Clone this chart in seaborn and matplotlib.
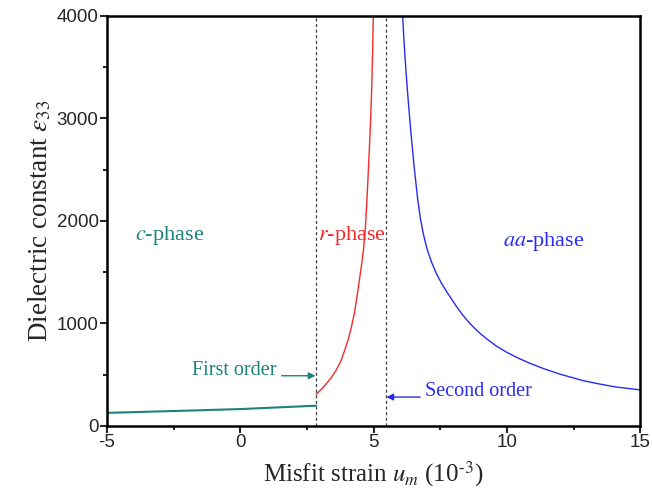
import matplotlib
matplotlib.use("Agg")
import matplotlib.pyplot as plt
import seaborn as sns
import pandas as pd
from matplotlib.ticker import MultipleLocator

# ---- data ----
c_strain = [-5.0, -2.5, 0.0, 2.85]
c_eps = [128, 146, 165, 198]

r_strain = [2.85, 3.05, 3.24, 3.43, 3.61, 3.78, 3.92, 4.05, 4.17, 4.28, 4.36, 4.45,
            4.55, 4.62, 4.69, 4.74, 4.79, 4.84, 4.89, 4.93, 4.96, 4.99]
r_eps = [310, 360, 416, 478, 550, 640, 741, 845, 969, 1100, 1229, 1392,
         1575, 1717, 1930, 2150, 2420, 2693, 3000, 3300, 3620, 4000]

aa_strain = [6.09, 6.13, 6.18, 6.24, 6.30, 6.40, 6.52, 6.65, 6.75, 6.86, 7.0, 7.17,
             7.35, 7.55, 7.74, 8.11, 8.35, 8.61, 8.9, 9.24, 9.6, 10.0, 10.4, 10.86,
             11.4, 12.0, 12.86, 13.5, 14.1, 15.0]
aa_eps = [4000, 3800, 3590, 3370, 3170, 2860, 2530, 2220, 2030, 1880, 1730, 1600,
          1490, 1390, 1310, 1165, 1080, 1000, 925, 850, 780, 718, 665, 612,
          557, 505, 442, 408, 380, 352]

transitions = [2.85, 5.45]
x_ticks = [-5, 0, 5, 10, 15]
y_ticks = [0, 1000, 2000, 3000, 4000]

teal = "#1b827c"
red = "#f42a2a"
blue = "#2a2af0"

sns.set_style("ticks")
plt.rcParams["font.family"] = ["Liberation Serif", "DejaVu Serif"]
plt.rcParams["mathtext.fontset"] = "stix"
plt.rcParams["axes.unicode_minus"] = False

fig = plt.figure(figsize=(6.52, 4.98), dpi=100)
ax = fig.add_axes([0.164, 0.1446, 0.818, 0.8234])

df = pd.concat([
    pd.DataFrame({"strain": c_strain, "eps": c_eps, "phase": "c"}),
    pd.DataFrame({"strain": r_strain, "eps": r_eps, "phase": "r"}),
    pd.DataFrame({"strain": aa_strain, "eps": aa_eps, "phase": "aa"}),
], ignore_index=True)

for ph, col, lw in [("c", teal, 1.5), ("r", red, 1.0), ("aa", blue, 1.0)]:
    sub = df[df["phase"] == ph]
    sns.lineplot(data=sub, x="strain", y="eps", ax=ax, color=col, lw=lw,
                 sort=False, estimator=None, legend=False)

for t in transitions:
    ax.axvline(t, color="#404040", lw=0.9, ls=(0, (2.5, 2)), zorder=1)

ax.set_xlim(-5, 15)
ax.set_ylim(0, 4000)
ax.set_xticks(x_ticks)
ax.set_yticks(y_ticks)
ax.xaxis.set_minor_locator(MultipleLocator(2.5))
ax.yaxis.set_minor_locator(MultipleLocator(500))
ax.tick_params(which="major", direction="out", length=5, width=1.5,
               labelsize=13.5, pad=1)
ax.tick_params(which="minor", direction="out", length=3, width=1.5)
for lab in ax.get_xticklabels() + ax.get_yticklabels():
    lab.set_fontfamily(["Liberation Sans", "DejaVu Sans"])
for sp in ax.spines.values():
    sp.set_visible(True)
    sp.set_linewidth(1.8)
    sp.set_color("black")

ax.set_xlabel(r"Misfit strain $u_m$ (10$^{\mathrm{‐3}}$)", fontsize=18, labelpad=6)
ax.set_ylabel(r"Dielectric constant $\varepsilon_{33}$", fontsize=19.5, labelpad=2)

fs = 14.5
fp = 16
ax.text(-3.95, 1860, r"$c$-phase", color=teal, fontsize=fp, va="center", ha="left")
ax.text(2.93, 1860, r"$r$-phase", color=red, fontsize=fp, va="center", ha="left")
ax.text(9.85, 1800, r"$aa$-phase", color=blue, fontsize=fp, va="center", ha="left")

ax.text(1.35, 545, "First order", color=teal, fontsize=fs, va="center", ha="right")
ax.annotate("", xy=(2.82, 490), xytext=(1.55, 490),
            arrowprops=dict(arrowstyle="-|>", color=teal, lw=1.0, mutation_scale=10,
                            shrinkA=0, shrinkB=0))
ax.text(6.93, 335, "Second order", color=blue, fontsize=fs, va="center", ha="left")
ax.annotate("", xy=(5.48, 282), xytext=(6.75, 282),
            arrowprops=dict(arrowstyle="-|>", color=blue, lw=1.0, mutation_scale=10,
                            shrinkA=0, shrinkB=0))

fig.savefig("out.png", dpi=100)
